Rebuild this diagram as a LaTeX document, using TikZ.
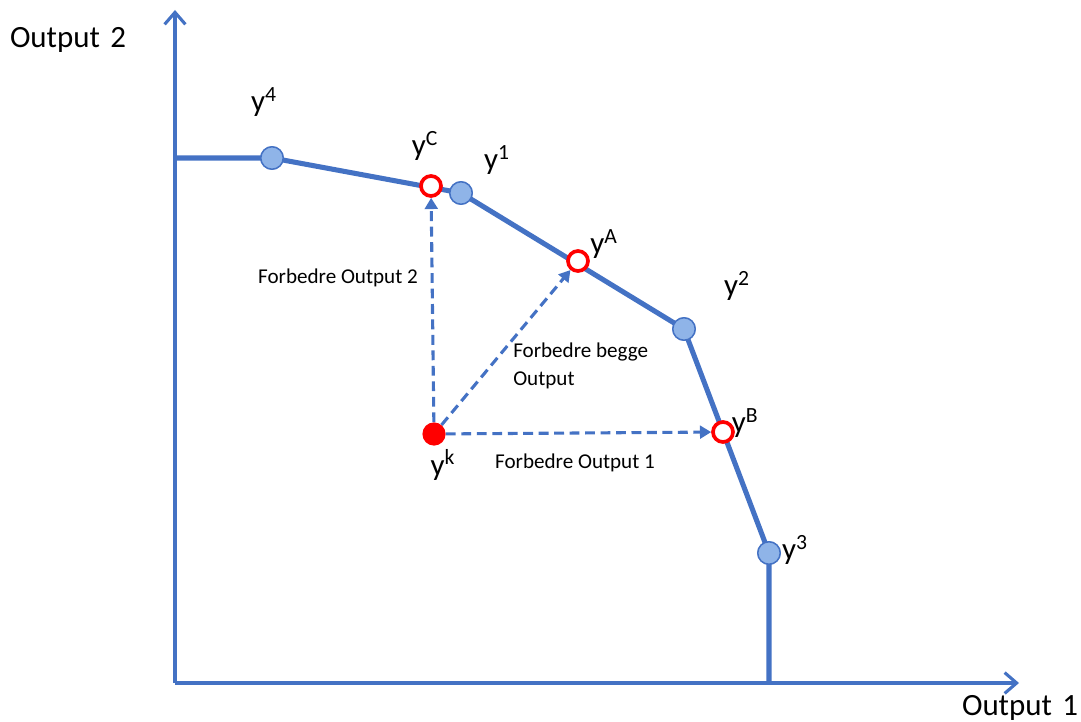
\documentclass[tikz,border=0pt]{standalone}
\usepackage{fontspec}
\setmainfont{Carlito}
\usetikzlibrary{arrows.meta}
\definecolor{lineblue}{RGB}{68,114,196}
\definecolor{dotblue}{RGB}{143,180,232}
\tikzset{
  axis/.style={line width=2.2pt,lineblue,-{Straight Barb[length=3mm,width=5.2mm,line width=2.2pt]}},
  frontier/.style={line width=3.6pt,lineblue},
  improve/.style={line width=2.2pt,lineblue,dashed,dash pattern=on 7pt off 4pt,-{Triangle[length=2.8mm,width=3.2mm]}},
  obs/.style={circle,draw=lineblue,line width=1pt,fill=dotblue,minimum size=0.56cm,inner sep=0pt},
  target/.style={circle,draw=red,line width=2.6pt,fill=white,minimum size=0.5cm,inner sep=0pt},
  unit/.style={circle,fill=red,minimum size=0.58cm,inner sep=0pt},
  lab/.style={font=\fontsize{22}{26}\selectfont,inner sep=0pt},
  small/.style={font=\fontsize{15}{20}\selectfont,inner sep=0pt,align=left}
}
\begin{document}
\begin{tikzpicture}[x=0.025cm,y=-0.025cm]
\useasboundingbox (0,0) rectangle (1081,722);
% axes
\coordinate (O) at (175,683);
\coordinate (ytop) at (175,10);
\coordinate (xend) at (1019,683);
\draw[axis] (O) -- (ytop);
\draw[axis] (O) -- (xend);
\node[lab] (out2) at (68,40) {Output\,\,2};
\node[lab] (out1) at (1020,708) {Output\,\,1};
% frontier
\coordinate (f0) at (175,158);
\coordinate (f5) at (769,683);
\node[obs] (y4) at (272,158) {};
\node[obs] (y1) at (461,193) {};
\node[obs] (y2) at (684,329) {};
\node[obs] (y3) at (769,553) {};
\draw[frontier] (f0) -- (y4.center) -- (y1.center) -- (y2.center) -- (y3.center) -- (f5);
\node[obs] at (y4) {};
\node[obs] at (y1) {};
\node[obs] at (y2) {};
\node[obs] at (y3) {};
\node[target] (yC) at (431,186) {};
\node[target] (yA) at (578,261) {};
\node[target] (yB) at (723,432) {};
\node[unit] (yk) at (434,434) {};
% improvements
\draw[improve] (yk) -- (yC);
\draw[improve] (yk) -- (yA);
\draw[improve] (yk) -- (yB);
% labels
\node[lab] (ly4) at (264,102) {y\textsuperscript{4}};
\node[lab] (lyC) at (425,146) {y\textsuperscript{C}};
\node[lab] (ly1) at (497,160) {y\textsuperscript{1}};
\node[lab] (lyA) at (604,244) {y\textsuperscript{A}};
\node[lab] (ly2) at (737,286) {y\textsuperscript{2}};
\node[lab] (lyB) at (745,423) {y\textsuperscript{B}};
\node[lab] (ly3) at (795,550) {y\textsuperscript{3}};
\node[lab] (lyk) at (443,465) {y\textsuperscript{k}};
\node[small] (t2) at (338,278) {Forbedre Output 2};
\node[small,anchor=west] (tb) at (513,366) {Forbedre begge\\Output};
\node[small] (t1) at (575,463) {Forbedre Output 1};
\end{tikzpicture}
\end{document}
